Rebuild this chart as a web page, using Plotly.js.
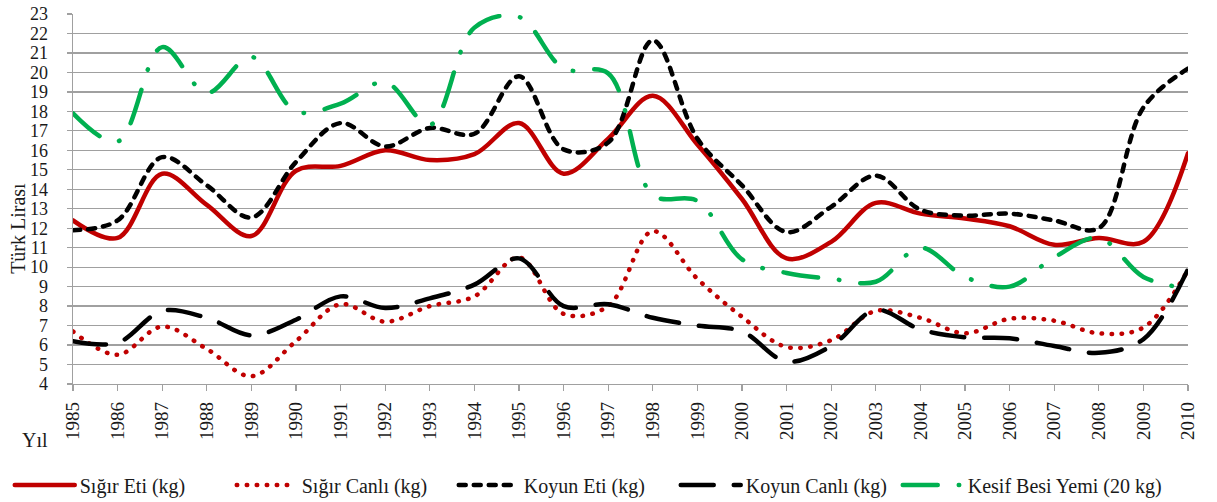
<!DOCTYPE html>
<html>
<head>
<meta charset="utf-8">
<script src="https://cdn.plot.ly/plotly-3.0.1.min.js"></script>
<style>
  html, body { margin: 0; padding: 0; background: #fff; }
  #chart { width: 1217px; height: 502px; }
  .scatterlayer .js-line, .legendlines path { stroke-linecap: round; stroke-linejoin: round; }
  .legend .scrollbox { clip-path: none !important; }
</style>
</head>
<body>
<div id="chart"></div>
<script>
const years = [1985,1986,1987,1988,1989,1990,1991,1992,1993,1994,1995,1996,1997,1998,1999,2000,2001,2002,2003,2004,2005,2006,2007,2008,2009,2010];

const sigirEti   = [12.4,11.5,14.8,13.2,11.6,14.95,15.2,16.0,15.5,15.8,17.4,14.8,16.6,18.8,16.3,13.5,10.45,11.3,13.3,12.75,12.5,12.1,11.15,11.5,11.3,15.85];
const sigirCanli = [6.7,5.5,6.95,5.8,4.4,6.2,8.1,7.2,8.0,8.5,10.5,7.6,8.0,11.85,9.4,7.45,5.9,6.25,7.75,7.4,6.6,7.35,7.25,6.6,6.9,9.85];
const koyunEti   = [11.9,12.4,15.65,14.2,12.55,15.4,17.4,16.2,17.15,16.85,19.8,16.05,16.4,21.65,16.6,14.2,11.8,13.1,14.7,12.95,12.65,12.75,12.4,12.0,18.2,20.2];
const koyunCanli = [6.2,6.12,7.75,7.4,6.5,7.3,8.5,7.9,8.4,9.1,10.45,8.0,8.1,7.4,7.0,6.7,5.15,5.95,7.8,6.8,6.4,6.35,5.95,5.6,6.3,9.9];
const kesifYem   = [17.9,16.45,21.3,18.95,20.8,18.0,18.4,19.5,17.3,22.3,22.85,20.2,19.95,13.7,13.4,10.4,9.7,9.4,9.25,11.0,9.5,9.0,10.5,11.5,9.5,8.9];

const names = ['Sığır Eti (kg)','Sığır Canlı (kg)','Koyun Eti (kg)','Koyun Canlı (kg)','Kesif Besi Yemi (20 kg)'];
const yTicks = [4,5,6,7,8,9,10,11,12,13,14,15,16,17,18,19,20,21,22,23];

const FONT = 'Liberation Serif, Times New Roman, serif';

function tr(y, name, color, width, dash) {
  return {
    x: years, y: y, name: name, type: 'scatter', mode: 'lines',
    line: {color: color, width: width, dash: dash, shape: 'spline', smoothing: 1},
    hoverinfo: 'skip'
  };
}

const data = [
  tr(sigirEti,   names[0], '#c00000', 4.5, 'solid'),
  tr(sigirCanli, names[1], '#c00000', 4.5, '0.5px,9.5px'),
  tr(koyunEti,   names[2], '#000000', 4.5, '7px,8px'),
  tr(koyunCanli, names[3], '#000000', 4.5, '33px,20px'),
  tr(kesifYem,   names[4], '#00b050', 4.5, '35px,21px,0.5px,21px')
];

const layout = {
  width: 1217, height: 502,
  margin: {l: 73, r: 29, t: 14, b: 118, pad: 0, autoexpand: false},
  paper_bgcolor: '#ffffff', plot_bgcolor: '#ffffff',
  font: {family: FONT, size: 20, color: '#1a1a1a'},
  showlegend: true,
  legend: {
    orientation: 'h', xref: 'container', yref: 'container',
    x: 0.008, xanchor: 'left', y: 0.034, yanchor: 'middle',
    font: {family: FONT, size: 20, color: '#1a1a1a'},
    bgcolor: 'rgba(0,0,0,0)',
    itemwidth: 60, entrywidth: 147, entrywidthmode: 'pixels',
    tracegroupgap: 0, traceorder: 'normal'
  },
  xaxis: {
    type: 'linear', range: [1985, 2010], tickmode: 'array', tickvals: years,
    ticktext: years.map(String), tickangle: -90, automargin: false,
    ticks: 'outside', ticklen: 6, tickcolor: '#a0a0a0', tickwidth: 1.3,
    showgrid: false, zeroline: false,
    showline: true, linecolor: '#a0a0a0', linewidth: 1.3,
    tickfont: {family: FONT, size: 19, color: '#1a1a1a'},
    ticklabelstandoff: 3, fixedrange: true
  },
  yaxis: {
    range: [4, 23], tickmode: 'array', tickvals: yTicks, ticktext: yTicks.map(String),
    ticks: 'outside', ticklen: 5, tickcolor: '#a0a0a0', tickwidth: 1.3, automargin: false,
    showgrid: true, gridcolor: '#a0a0a0', gridwidth: 1.3, zeroline: false,
    showline: true, linecolor: '#a0a0a0', linewidth: 1.3,
    tickfont: {family: FONT, size: 18, color: '#1a1a1a'},
    ticklabelstandoff: 15, fixedrange: true
  },
  annotations: [
    {text: 'Türk Lirası', xref: 'paper', yref: 'paper', x: -0.05, y: 0.42,
     xanchor: 'center', yanchor: 'middle', textangle: -90, showarrow: false,
     font: {family: FONT, size: 20, color: '#1a1a1a'}},
    {text: 'Yıl', xref: 'paper', yref: 'paper', x: -0.034, y: -0.151,
     xanchor: 'center', yanchor: 'middle', showarrow: false,
     font: {family: FONT, size: 20, color: '#1a1a1a'}}
  ]
};

Plotly.newPlot('chart', data, layout, {staticPlot: true, displayModeBar: false});
</script>
</body>
</html>
